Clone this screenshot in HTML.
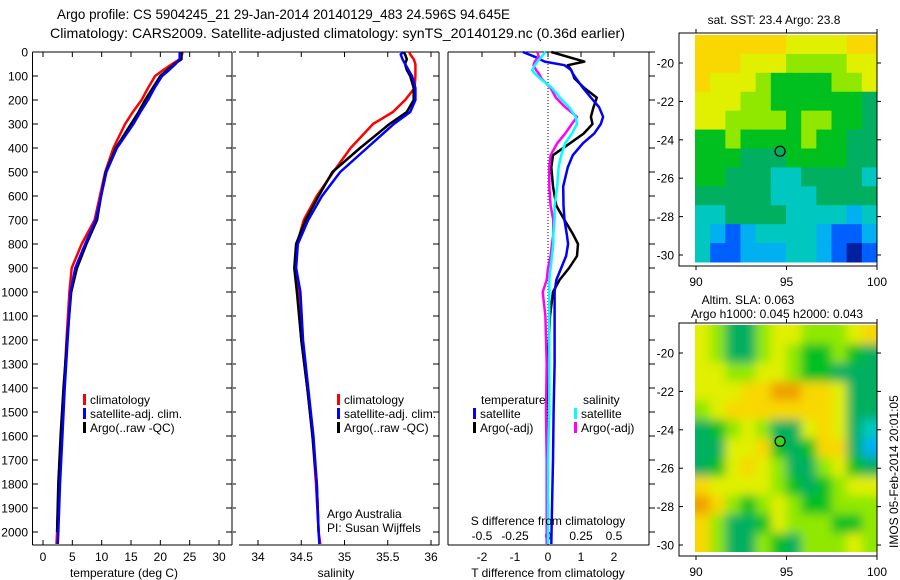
<!DOCTYPE html>
<html><head><meta charset="utf-8"><style>
html,body{margin:0;padding:0;background:#fff;}
svg{display:block;font-family:"Liberation Sans",sans-serif;}
text{fill:#000;}
</style></head><body>
<svg id="fig" width="900" height="580" viewBox="0 0 900 580">
<defs>
<filter id="soft" x="-5%" y="-5%" width="110%" height="110%"><feGaussianBlur stdDeviation="5"/></filter>
<clipPath id="slaclip"><rect x="695" y="325" width="182" height="227"/></clipPath>
</defs>
<text x="57" y="19" font-size="14" textLength="453" lengthAdjust="spacingAndGlyphs">Argo profile: CS 5904245_21 29-Jan-2014 20140129_483 24.596S 94.645E</text>
<text x="50" y="38" font-size="14" textLength="575" lengthAdjust="spacingAndGlyphs">Climatology: CARS2009. Satellite-adjusted climatology: synTS_20140129.nc (0.36d earlier)</text>
<g id="p1"></g>
<g id="p2"></g>
<g id="p3"></g>
<g id="m1"></g>
<g id="m2"></g>
<text x="774" y="24" font-size="12" text-anchor="middle">sat. SST: 23.4 Argo: 23.8</text>
<text x="748" y="304" font-size="12" text-anchor="middle">Altim. SLA: 0.063</text>
<text x="777" y="318" font-size="12" text-anchor="middle">Argo h1000: 0.045 h2000: 0.043</text>
<text x="0" y="0" font-size="12" transform="translate(898,548) rotate(-90)">IMOS 05-Feb-2014 20:01:05</text>
</svg>
<script>
// ---- data ----
const depthsTS = [0,10,30,50,75,100,150,200,250,300,400,500,600,700,800,900,1000,1200,1400,1600,1800,2000,2050];
const tempClim = [23.8,23.7,23.3,22,20.5,19.1,17.9,16.8,15.3,14,12,10.6,9.7,8.8,6.6,4.9,4.5,4.0,3.6,3.1,2.7,2.4,2.3];
const tempSat  = [23.3,23.3,23.3,22.6,21.5,20.3,19.0,17.9,16.6,15.4,12.6,10.8,9.9,9.0,7.2,5.5,4.7,4.2,3.7,3.3,2.9,2.6,2.5];
const tempArgo = [23.6,23.6,23.6,22.4,21.2,20.0,18.7,17.4,16.3,15.0,12.4,10.7,9.9,9.2,7.4,5.8,4.8,4.1,3.5,3.0,2.6,2.4];
const salClim = [35.75,35.76,35.8,35.82,35.82,35.82,35.81,35.70,35.56,35.33,35.07,34.87,34.68,34.53,34.45,34.43,34.47,34.50,34.57,34.63,34.67,34.70,34.72];
const salSat  = [35.68,35.65,35.67,35.7,35.74,35.78,35.82,35.82,35.76,35.57,35.26,34.95,34.74,34.58,34.46,34.44,34.49,34.52,34.58,34.64,34.68,34.70,34.71];
const salArgo = [35.68,35.7,35.72,35.7,35.72,35.76,35.8,35.8,35.72,35.52,35.18,34.86,34.70,34.55,34.44,34.42,34.45,34.50,34.57,34.63,34.68,34.70];
const depthsDiff = [0,20,40,55,75,90,110,150,190,230,270,300,340,380,430,480,560,640,700,760,800,850,900,950,1000,1100,1300,1500,1700,1900,2050];
const dTempSat  = [-0.76,-0.4,-0.1,0.5,0.7,0.75,0.85,1.06,1.3,1.55,1.67,1.6,1.4,1.06,0.75,0.6,0.46,0.47,0.5,0.57,0.61,0.55,0.4,0.25,0.2,0.2,0.2,0.17,0.15,0.12,0.1];
const dTempArgo = [0.1,0.6,1.1,0.6,0.7,0.75,0.8,1.1,1.48,1.38,1.3,1.35,1.08,0.67,0.15,0.1,0.15,0.25,0.5,0.76,0.91,0.88,0.64,0.35,0.15,0.06,0.0,-0.05,-0.03,0.0,-0.02];
const dSalSat   = [-0.02,-0.05,-0.08,-0.1,-0.12,-0.1,-0.06,0.03,0.09,0.16,0.21,0.22,0.18,0.13,0.1,0.08,0.07,0.05,0.05,0.04,0.04,0.03,0.02,0.01,0.01,0.01,0.01,0.01,0.0,0.0,0.0];
const dSalArgo  = [-0.08,-0.07,-0.1,-0.11,-0.09,-0.07,-0.05,0.02,0.06,0.13,0.22,0.18,0.13,0.07,0.02,0.01,0.01,0.02,0.04,0.04,0.03,0.02,0.0,-0.01,-0.04,-0.02,-0.01,-0.015,-0.01,-0.01,-0.01];
const depthTicks = [0,100,200,300,400,500,600,700,800,900,1000,1100,1200,1300,1400,1500,1600,1700,1800,1900,2000];
const tempTicks = [0,5,10,15,20,25,30];
const salTicks = [34,34.5,35,35.5,36];
const dTTicks = [-2,-1,0,1,2];
const dSTicks = [-0.5,-0.25,0,0.25,0.5];
const dSTickLabels = ["-0.5","-0.25","0","0.25","0.5"];
const mapLonTicks = [90,95,100];
const mapLatTicks = [-20,-22,-24,-26,-28,-30];
const sstGrid = [
"888888777788","888777666677","877765555667","777665555554","776666566554","556555565544",
"555444555544","554443344443","444443334444","334444333323","321233332112","311222332101"];
const slaGrid = [
"764467766678","764467655654","776677655444","777889988744","678888888744","456764478743",
"447785458842","457876446754","877776545677","986567655666","864457666556","864465466676"];
const argoLon = 94.645, argoLat = -24.596;

// ---- helpers ----
const NS="http://www.w3.org/2000/svg";
function mk(tag,attrs,parent){const e=document.createElementNS(NS,tag);for(const k in attrs)e.setAttribute(k,attrs[k]);parent.appendChild(e);return e;}
const yD = d => 52 + d*0.24;
const xT = v => 43 + v*5.867;
const xS = v => 258 + (v-34)*86.5;
const xDT = v => 548 + v*33;
const xDS = v => 548 + v*132;
const TOP=52, BOT=545;

function line(parent,xs,ds,fx,color,name,w){
  const pts = xs.map((v,i)=>fx(v).toFixed(1)+","+yD(ds[i]).toFixed(1)).join(" ");
  const p = mk("polyline",{points:pts,fill:"none",stroke:color,"stroke-width":w||2.5,"stroke-linejoin":"round"},parent);
  
  
}
function frame(parent,x0,x1,left){
  mk("line",{x1:x0,y1:TOP,x2:x1,y2:TOP,stroke:"#000"},parent);
  mk("line",{x1:x0,y1:BOT,x2:x1,y2:BOT,stroke:"#000"},parent);
  mk("line",{x1:x1,y1:TOP,x2:x1,y2:BOT,stroke:"#000"},parent);
  if(left) mk("line",{x1:x0,y1:TOP,x2:x0,y2:BOT,stroke:"#000"},parent);
}
function legendRow(parent,x,y,color,label,name){
  const r = mk("rect",{x:x,y:y-10,width:3,height:11,fill:color},parent);
  
  
  const t = mk("text",{x:x+7,y:y,"font-size":12},parent);
  t.textContent=label;
  
  
}

// ---- panel 1: temperature ----
const p1=document.getElementById("p1");
frame(p1,32.5,232,true);
depthTicks.forEach(d=>{
  mk("line",{x1:32.5,y1:yD(d),x2:38,y2:yD(d),stroke:"#000"},p1);
  mk("line",{x1:226,y1:yD(d),x2:232,y2:yD(d),stroke:"#000"},p1);
  mk("line",{x1:233,y1:yD(d),x2:236,y2:yD(d),stroke:"#000"},p1);
  const t=mk("text",{x:28,y:yD(d)+4.5,"font-size":12,"text-anchor":"end"},p1);
  t.textContent=d;
  
  
});
tempTicks.forEach(v=>{
  mk("line",{x1:xT(v),y1:BOT,x2:xT(v),y2:BOT-5,stroke:"#000"},p1);
  mk("line",{x1:xT(v),y1:TOP,x2:xT(v),y2:TOP+5,stroke:"#000"},p1);
  const t=mk("text",{x:xT(v),y:561,"font-size":12,"text-anchor":"middle"},p1);
  t.textContent=v;
  
  
});
{const t=mk("text",{x:124,y:577,"font-size":12,"text-anchor":"middle"},p1);t.textContent="temperature (deg C)";

}
line(p1,tempClim,depthsTS,xT,"#ff0000","temperature-climatology-line");
line(p1,tempArgo,depthsTS,xT,"#000000","temperature-argo-line");
line(p1,tempSat,depthsTS,xT,"#0000ff","temperature-satellite-line");
legendRow(p1,83,404,"#ff0000","climatology","temp-legend-climatology");
legendRow(p1,83,418,"#0000ff","satellite-adj. clim.","temp-legend-satellite");
legendRow(p1,83,432,"#000000","Argo(..raw -QC)","temp-legend-argo");

// ---- panel 2: salinity ----
const p2=document.getElementById("p2");
frame(p2,239,439,false);
depthTicks.forEach(d=>{
  mk("line",{x1:433,y1:yD(d),x2:439,y2:yD(d),stroke:"#000"},p2);
});
salTicks.forEach(v=>{
  mk("line",{x1:xS(v),y1:BOT,x2:xS(v),y2:BOT-5,stroke:"#000"},p2);
  mk("line",{x1:xS(v),y1:TOP,x2:xS(v),y2:TOP+5,stroke:"#000"},p2);
  const t=mk("text",{x:xS(v),y:561,"font-size":12,"text-anchor":"middle"},p2);
  t.textContent=v;
  
  
});
{const t=mk("text",{x:336,y:577,"font-size":12,"text-anchor":"middle"},p2);t.textContent="salinity";

}
line(p2,salClim,depthsTS,xS,"#ff0000","salinity-climatology-line");
line(p2,salArgo,depthsTS,xS,"#000000","salinity-argo-line");
line(p2,salSat,depthsTS,xS,"#0000ff","salinity-satellite-line");
legendRow(p2,337,404,"#ff0000","climatology","sal-legend-climatology");
legendRow(p2,337,418,"#0000ff","satellite-adj. clim.","sal-legend-satellite");
legendRow(p2,337,432,"#000000","Argo(..raw -QC)","sal-legend-argo");
{const t=mk("text",{x:327,y:518,"font-size":12},p2);t.textContent="Argo Australia";


const t2=mk("text",{x:327,y:532,"font-size":12},p2);t2.textContent="PI: Susan Wijffels";

}

// ---- panel 3: differences ----
const p3=document.getElementById("p3");
frame(p3,448,649,true);
depthTicks.forEach(d=>{
  mk("line",{x1:649,y1:yD(d),x2:655,y2:yD(d),stroke:"#000"},p3);
});
dTTicks.forEach(v=>{
  mk("line",{x1:xDT(v),y1:TOP,x2:xDT(v),y2:TOP+5,stroke:"#000"},p3);
  const t=mk("text",{x:xDT(v),y:561,"font-size":12,"text-anchor":"middle"},p3);
  t.textContent=v;
  
  
});
dSTicks.forEach((v,i)=>{
  const t=mk("text",{x:xDS(v),y:540,"font-size":12,"text-anchor":"middle"},p3);
  t.textContent=dSTickLabels[i];
  
  
});
mk("line",{x1:548,y1:TOP,x2:548,y2:BOT,stroke:"#000","stroke-dasharray":"1,2"},p3);
line(p3,dTempArgo,depthsDiff,xDT,"#000000","t-diff-argo-line");
line(p3,dTempSat,depthsDiff,xDT,"#0000ff","t-diff-satellite-line");
line(p3,dSalArgo,depthsDiff,xDS,"#ff00ff","s-diff-argo-line");
line(p3,dSalSat,depthsDiff,xDS,"#00ffff","s-diff-satellite-line");
{const t=mk("text",{x:548,y:525,"font-size":12,"text-anchor":"middle"},p3);t.textContent="S difference from climatology";


const t2=mk("text",{x:548,y:577,"font-size":12,"text-anchor":"middle"},p3);t2.textContent="T difference from climatology";


const t3=mk("text",{x:481,y:404,"font-size":12},p3);t3.textContent="temperature";


const t4=mk("text",{x:583,y:404,"font-size":12},p3);t4.textContent="salinity";

}
legendRow(p3,473,418,"#0000ff","satellite","diff-legend-t-satellite");
legendRow(p3,473,432,"#000000","Argo(-adj)","diff-legend-t-argo");
legendRow(p3,574,418,"#00ffff","satellite","diff-legend-s-satellite");
legendRow(p3,574,432,"#ff00ff","Argo(-adj)","diff-legend-s-argo");

// ---- maps ----
const palette=["#0020a0","#0060ff","#00b0f0","#00c8c0","#00b060","#00c020","#90e800","#e0f000","#f8d800","#f0a000"];
function drawMap(g,grid,top,latM20,name,smooth){
  const x0=679,x1=877,y0=top,y1=top+233;
  const lon = v => 696 + (v-90)*18.1;
  const lat = v => latM20 + (-20 - v)*19.2;
  const gx0=695, gx1=877, gy0=top+2, gy1=top+229;
  const nr=grid.length, nc=grid[0].length;
  const cw=(gx1-gx0)/nc, ch=(gy1-gy0)/nr;
  let cg=g;
  if(smooth){
    const clip=mk("g",{"clip-path":"url(#slaclip)"},g);
    cg=mk("g",{filter:"url(#soft)"},clip);
  }
  for(let r=0;r<nr;r++)for(let c=0;c<nc;c++){
    let x=gx0+c*cw,y=gy0+r*ch,w=cw+0.5,h=ch+0.5;
    if(smooth){ if(c===0){x-=10;w+=10;} if(c===nc-1)w+=10; if(r===0){y-=10;h+=10;} if(r===nr-1)h+=10; }
    const cell=mk("rect",{x:x,y:y,width:w,height:h,fill:palette[+grid[r][c]]},cg);
    
    
  }
  mk("rect",{x:x0,y:y0,width:x1-x0,height:y1-y0,fill:"none",stroke:"#000"},g);
  mapLatTicks.forEach(v=>{
    mk("line",{x1:x0,y1:lat(v),x2:x0+4,y2:lat(v),stroke:"#000"},g);
    mk("line",{x1:x1,y1:lat(v),x2:x1+4,y2:lat(v),stroke:"#000"},g);
    const t=mk("text",{x:674,y:lat(v)+4.5,"font-size":12,"text-anchor":"end"},g);
    t.textContent=v;
    
    
  });
  mapLonTicks.forEach(v=>{
    mk("line",{x1:lon(v),y1:y1,x2:lon(v),y2:y1+4,stroke:"#000"},g);
    mk("line",{x1:lon(v),y1:y0,x2:lon(v),y2:y0-4,stroke:"#000"},g);
    const t=mk("text",{x:lon(v),y:y1+20,"font-size":12,"text-anchor":"middle"},g);
    t.textContent=v;
    
    
  });
  const c=mk("circle",{cx:lon(argoLon),cy:lat(argoLat),r:5,fill:name==="sla-map"?"#40d020":"none",stroke:"#000","stroke-width":1.2},g);
  
  
}
drawMap(document.getElementById("m1"),sstGrid,33,63,"sst-map",false);
drawMap(document.getElementById("m2"),slaGrid,323,353,"sla-map",true);
</script>
</body></html>
